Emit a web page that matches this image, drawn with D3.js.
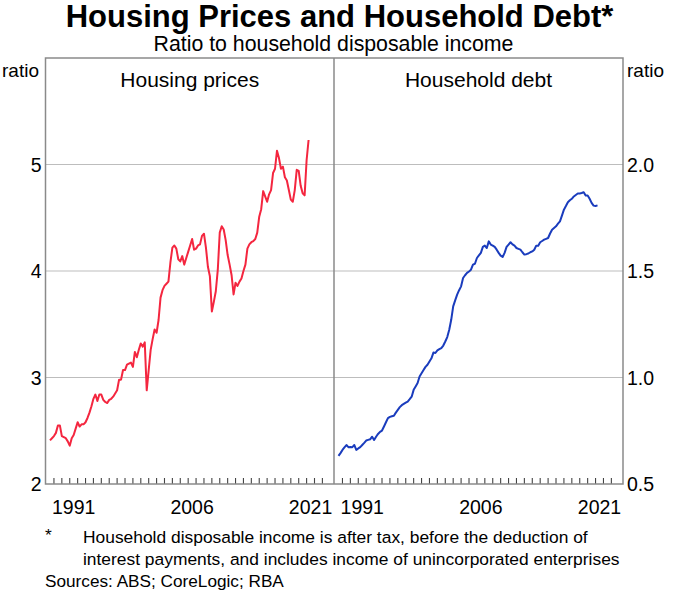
<!DOCTYPE html>
<html><head><meta charset="utf-8">
<script src="https://cdn.jsdelivr.net/npm/d3@7"></script>
<style>body{margin:0;background:#fff} text{font-family:"Liberation Sans",Arial,Helvetica,sans-serif;fill:#000}</style>
</head><body><svg id="c" width="679" height="600"></svg>
<script>
// ---- data ----
const firstYear = 1988, firstQuarter = 3; // quarterly series start (Sep 1988)
const housingPrices = [2.41,2.43,2.45,2.48,2.55,2.55,2.45,2.44,2.43,2.40,2.36,2.43,2.46,2.52,2.58,2.54,2.56,2.56,2.58,2.62,
2.67,2.73,2.80,2.84,2.78,2.84,2.84,2.79,2.77,2.76,2.79,2.80,2.82,2.85,2.88,2.98,2.98,3.07,3.07,3.12,
3.13,3.14,3.10,3.24,3.19,3.26,3.32,3.29,3.33,2.88,3.07,3.26,3.36,3.45,3.42,3.54,3.75,3.82,3.86,3.88,
3.90,4.08,4.22,4.24,4.21,4.11,4.09,4.14,4.06,4.12,4.18,4.24,4.30,4.20,4.21,4.24,4.25,4.33,4.35,4.22,
4.04,3.95,3.62,3.71,3.81,4.01,4.36,4.42,4.39,4.29,4.15,4.06,3.96,3.78,3.89,3.86,3.90,3.93,4.00,4.06,
4.21,4.25,4.27,4.28,4.30,4.36,4.51,4.58,4.75,4.70,4.65,4.72,4.76,4.92,4.96,5.13,5.06,4.96,4.98,4.88,
4.85,4.76,4.67,4.65,4.76,4.95,4.94,4.80,4.73,4.71,5.04,5.23];
const householdDebt = [0.632,0.645,0.660,0.672,0.683,0.673,0.674,0.673,0.683,0.660,0.667,0.673,0.683,0.693,0.704,0.707,0.710,0.722,0.707,0.722,
0.735,0.745,0.751,0.770,0.790,0.809,0.815,0.818,0.820,0.835,0.848,0.861,0.870,0.876,0.882,0.887,0.898,0.910,0.942,0.958,
0.974,1.005,1.020,1.035,1.050,1.060,1.075,1.090,1.117,1.115,1.127,1.133,1.138,1.150,1.169,1.190,1.224,1.271,1.334,1.362,
1.389,1.410,1.428,1.467,1.480,1.491,1.498,1.506,1.530,1.534,1.561,1.573,1.585,1.613,1.619,1.608,1.639,1.624,1.619,1.613,
1.600,1.585,1.572,1.566,1.585,1.613,1.624,1.635,1.625,1.619,1.608,1.604,1.600,1.588,1.577,1.579,1.582,1.588,1.592,1.600,
1.619,1.619,1.635,1.641,1.647,1.651,1.655,1.676,1.694,1.702,1.710,1.722,1.733,1.760,1.788,1.805,1.823,1.832,1.839,1.850,
1.857,1.864,1.864,1.866,1.870,1.854,1.854,1.839,1.820,1.807,1.805,1.808];
const yearLabels = [1991, 2006, 2021];
const tickYears = d3.range(1989, 2024);
const leftTicks = [2, 3, 4, 5];
const rightTicks = [0.5, 1.0, 1.5, 2.0];
const gridLeft = [3, 4, 5];

// ---- layout ----
const svg = d3.select("#c");
const L = 45.5, M = 334, R = 623, T = 58, B = 484;
const xDomain = [1987.93, 2024.47];
const xL = d3.scaleLinear().domain(xDomain).range([L, M]);
const xR = d3.scaleLinear().domain(xDomain).range([M, R]);
const yL = d3.scaleLinear().domain([2, 6]).range([B, T]);
const yR = d3.scaleLinear().domain([0.5, 2.5]).range([B, T]);
const tOf = i => firstYear + (firstQuarter - 1) / 4 + i / 4;

// gridlines
svg.append("g").selectAll("line").data(gridLeft).join("line")
  .attr("x1", L).attr("x2", R).attr("y1", d => yL(d)).attr("y2", d => yL(d))
  .attr("stroke", "#bdbdbd").attr("stroke-width", 1.2);

// x ticks (inside, pointing up)
[xL, xR].forEach(x => {
  svg.append("g").selectAll("line").data(tickYears).join("line")
    .attr("x1", d => x(d)).attr("x2", d => x(d)).attr("y1", B).attr("y2", B - 6)
    .attr("stroke", "#444").attr("stroke-width", 1.1);
  svg.append("g").selectAll("text").data(yearLabels).join("text")
    .attr("x", d => x(d + 0.5)).attr("y", 514).attr("text-anchor", "middle")
    .attr("font-size", 19.5).text(d => d);
});

// lines
const lineL = d3.line().x((d, i) => xL(tOf(i))).y(d => yL(d));
const lineR = d3.line().x((d, i) => xR(tOf(i))).y(d => yR(d));
svg.append("path").attr("d", lineL(housingPrices)).attr("fill", "none")
  .attr("stroke", "#f4263f").attr("stroke-width", 2).attr("stroke-linejoin", "round");
svg.append("path").attr("d", lineR(householdDebt)).attr("fill", "none")
  .attr("stroke", "#1a3cbd").attr("stroke-width", 2).attr("stroke-linejoin", "round");

// frame
svg.append("rect").attr("x", L).attr("y", T).attr("width", R - L).attr("height", B - T)
  .attr("fill", "none").attr("stroke", "#8a8a8a").attr("stroke-width", 1.5);
svg.append("line").attr("x1", M).attr("x2", M).attr("y1", T).attr("y2", B)
  .attr("stroke", "#8a8a8a").attr("stroke-width", 1.5);

// y labels
svg.append("g").selectAll("text").data(leftTicks).join("text")
  .attr("x", L - 4).attr("y", d => yL(d) + 7).attr("text-anchor", "end")
  .attr("font-size", 19.5).text(d => d);
svg.append("g").selectAll("text").data(rightTicks).join("text")
  .attr("x", R + 4).attr("y", d => yR(d) + 7).attr("text-anchor", "start")
  .attr("font-size", 19.5).text(d => d.toFixed(1));
svg.append("text").attr("x", 2).attr("y", 77).attr("font-size", 19).text("ratio");
svg.append("text").attr("x", 627).attr("y", 77).attr("font-size", 19).text("ratio");

// titles
svg.append("text").attr("x", 339.5).attr("y", 27).attr("text-anchor", "middle")
  .attr("font-size", 31).attr("font-weight", "bold").text("Housing Prices and Household Debt*");
svg.append("text").attr("x", 333.5).attr("y", 51).attr("text-anchor", "middle")
  .attr("font-size", 21.3).text("Ratio to household disposable income");
svg.append("text").attr("x", (L + M) / 2).attr("y", 87).attr("text-anchor", "middle")
  .attr("font-size", 21).text("Housing prices");
svg.append("text").attr("x", (M + R) / 2).attr("y", 87).attr("text-anchor", "middle")
  .attr("font-size", 21).text("Household debt");

// footnotes
svg.append("text").attr("x", 45).attr("y", 541).attr("font-size", 17.4).text("*");
svg.append("text").attr("x", 83).attr("y", 543).attr("font-size", 17.4)
  .text("Household disposable income is after tax, before the deduction of");
svg.append("text").attr("x", 83).attr("y", 565).attr("font-size", 17.4)
  .text("interest payments, and includes income of unincorporated enterprises");
svg.append("text").attr("x", 45).attr("y", 587).attr("font-size", 17.2)
  .text("Sources: ABS; CoreLogic; RBA");
</script></body></html>
